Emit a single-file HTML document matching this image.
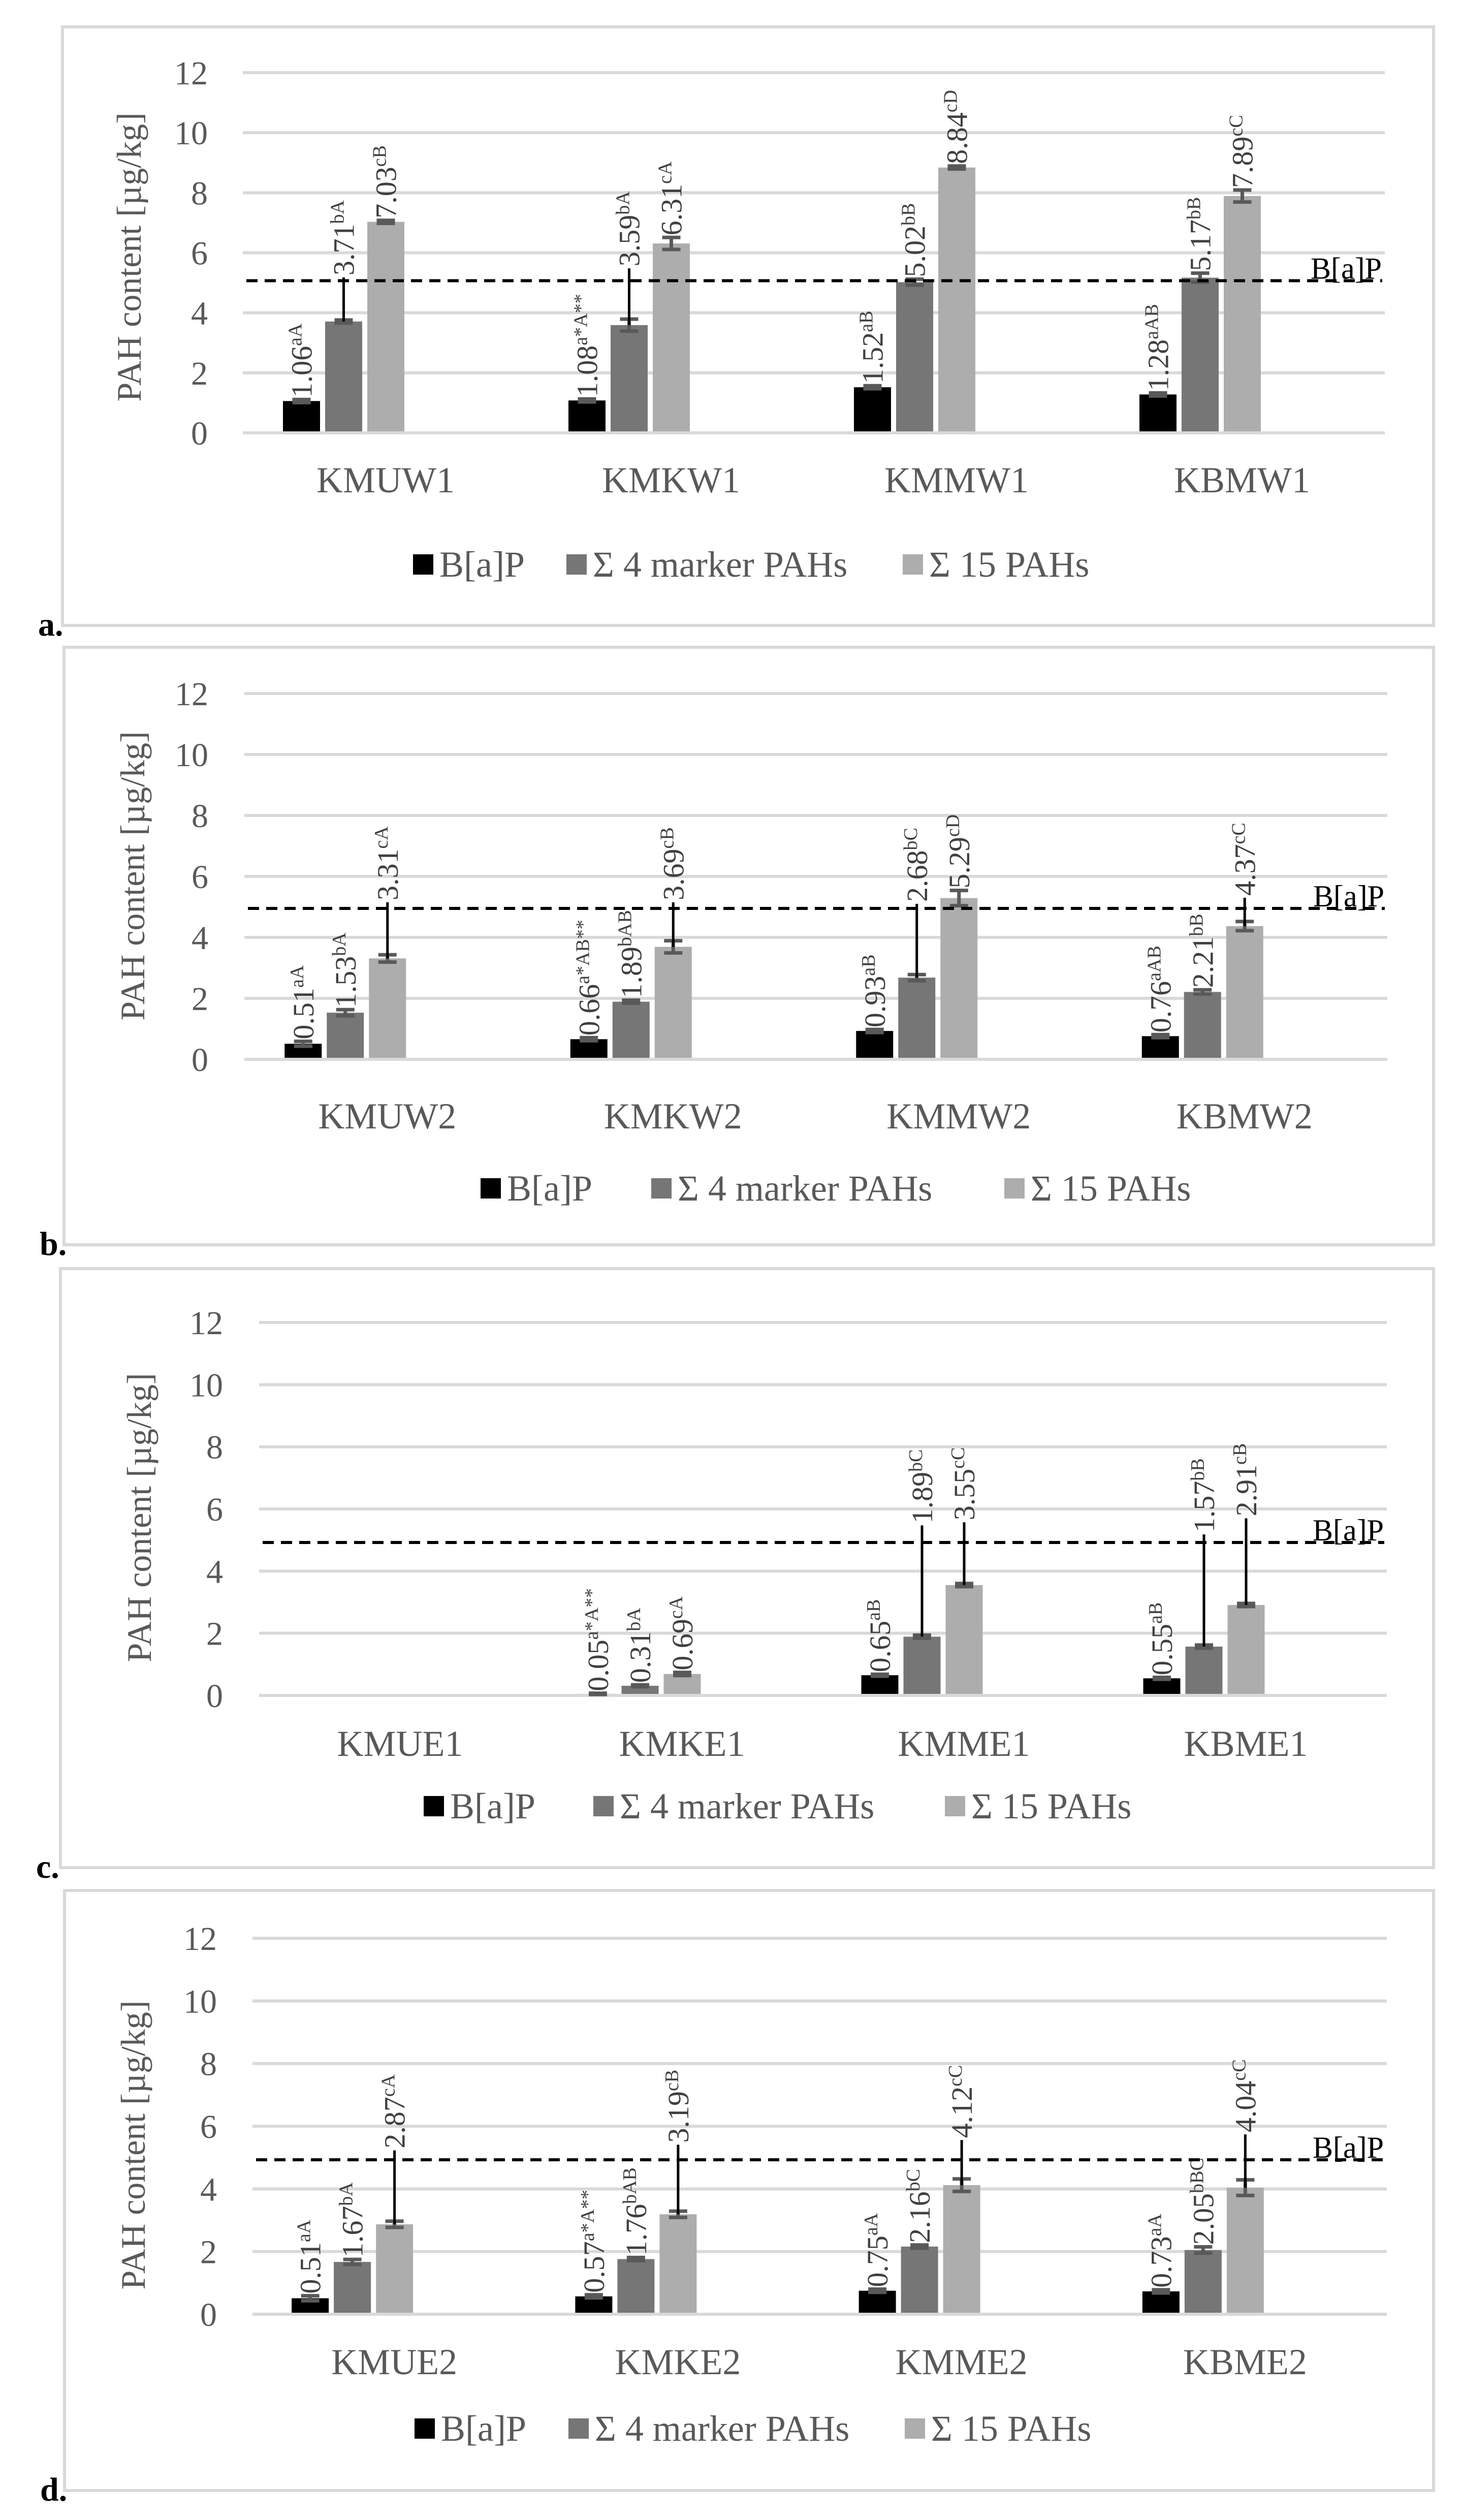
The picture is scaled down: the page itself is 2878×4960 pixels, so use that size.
<!DOCTYPE html>
<html><head><meta charset="utf-8">
<style>
html,body{margin:0;padding:0;background:#fff;}
svg{display:block;}
text{font-family:"Liberation Serif",serif;}
</style></head>
<body>
<svg id="fig" width="2878" height="4960" viewBox="0 0 2878 4960" xmlns="http://www.w3.org/2000/svg"></svg>
<script>
// ---- data ----
const panelLetters = ["a.", "b.", "c.", "d."];
const categoriesA = ["KMUW1", "KMKW1", "KMMW1", "KBMW1"];
const categoriesB = ["KMUW2", "KMKW2", "KMMW2", "KBMW2"];
const categoriesC = ["KMUE1", "KMKE1", "KMME1", "KBME1"];
const categoriesD = ["KMUE2", "KMKE2", "KMME2", "KBME2"];
const seriesNames = ["B[a]P", "\u03A3 4 marker PAHs", "\u03A3 15 PAHs"];
const yTicks = [0, 2, 4, 6, 8, 10, 12];

const bapA = [1.06, 1.08, 1.52, 1.28];
const m4A = [3.71, 3.59, 5.02, 5.17];
const p15A = [7.03, 6.31, 8.84, 7.89];
const bapB = [0.51, 0.66, 0.93, 0.76];
const m4B = [1.53, 1.89, 2.68, 2.21];
const p15B = [3.31, 3.69, 5.29, 4.37];
const bapC = [0, 0.05, 0.65, 0.55];
const m4C = [0, 0.31, 1.89, 1.57];
const p15C = [0, 0.69, 3.55, 2.91];
const bapD = [0.51, 0.57, 0.75, 0.73];
const m4D = [1.67, 1.76, 2.16, 2.05];
const p15D = [2.87, 3.19, 4.12, 4.04];

const errBapA = [0.05, 0.05, 0.05, 0.05];
const errM4A = [0.05, 0.2, 0.1, 0.15];
const errP15A = [0.05, 0.2, 0.05, 0.2];
const errBapB = [0.08, 0.05, 0.05, 0.05];
const errM4B = [0.1, 0.05, 0.1, 0.07];
const errP15B = [0.12, 0.2, 0.25, 0.15];
const errBapC = [0, 0.02, 0.03, 0.03];
const errM4C = [0, 0.03, 0.05, 0.05];
const errP15C = [0, 0.05, 0.05, 0.05];
const errBapD = [0.08, 0.05, 0.05, 0.05];
const errM4D = [0.08, 0.05, 0.05, 0.1];
const errP15D = [0.1, 0.1, 0.2, 0.25];

const spikeM4A = [5.18, 5.48, 0, 0];
const spikeP15A = [0, 0, 0, 0];
const spikeM4B = [0, 0, 5.1, 0];
const spikeP15B = [5.15, 5.15, 0, 5.3];
const spikeM4C = [0, 0, 5.47, 5.18];
const spikeP15C = [0, 0, 5.57, 5.7];
const spikeM4D = [0, 0, 0, 0];
const spikeP15D = [5.23, 5.41, 5.56, 5.74];

const supBapA = ["aA", "a*A**", "aB", "aAB"];
const supM4A = ["bA", "bA", "bB", "bB"];
const supP15A = ["cB", "cA", "cD", "cC"];
const supBapB = ["aA", "a*AB**", "aB", "aAB"];
const supM4B = ["bA", "bAB", "bC", "bB"];
const supP15B = ["cA", "cB", "cD", "cC"];
const supBapC = ["", "a*A**", "aB", "aB"];
const supM4C = ["", "bA", "bC", "bB"];
const supP15C = ["", "cA", "cC", "cB"];
const supBapD = ["aA", "a*A**", "aA", "aA"];
const supM4D = ["bA", "bAB", "bC", "bBC"];
const supP15D = ["cA", "cB", "cC", "cC"];

const limitA = 5.07, limitB = 4.95, limitC = 4.92, limitD = 4.93;

// ---- layout (not data) ----
const layouts = [
  {top:53, bottom:1231, left:123, plotL:478, plotR:2726, y12:143, y0:852, tickR:409, titleX:257, titleY:506, catY:969, legY:1111, leg:[813,1115,1777]},
  {top:1274, bottom:2450, left:126, plotL:481, plotR:2731, y12:1365, y0:2085, tickR:410, titleX:264, titleY:1724, catY:2221, legY:2339, leg:[946,1282,1977]},
  {top:2497, bottom:3676, left:119, plotL:510, plotR:2730, y12:2603, y0:3337, tickR:439, titleX:277, titleY:2987, catY:3456, legY:3555, leg:[834,1168,1860]},
  {top:3721, bottom:4902, left:127, plotL:497, plotR:2730, y12:3815, y0:4555, tickR:427, titleX:265, titleY:4222, catY:4673, legY:4780, leg:[816,1119,1781]}
];
const panels = [
  {cats:categoriesA, vals:[bapA,m4A,p15A], errs:[errBapA,errM4A,errP15A], spikes:[null,spikeM4A,spikeP15A], sups:[supBapA,supM4A,supP15A], limit:limitA},
  {cats:categoriesB, vals:[bapB,m4B,p15B], errs:[errBapB,errM4B,errP15B], spikes:[null,spikeM4B,spikeP15B], sups:[supBapB,supM4B,supP15B], limit:limitB},
  {cats:categoriesC, vals:[bapC,m4C,p15C], errs:[errBapC,errM4C,errP15C], spikes:[null,spikeM4C,spikeP15C], sups:[supBapC,supM4C,supP15C], limit:limitC},
  {cats:categoriesD, vals:[bapD,m4D,p15D], errs:[errBapD,errM4D,errP15D], spikes:[null,spikeM4D,spikeP15D], sups:[supBapD,supM4D,supP15D], limit:limitD}
];
const colors = ["#000000", "#767676", "#adadad"];
const NS = "http://www.w3.org/2000/svg";
const svg = document.getElementById("fig");

function mk(tag, attrs, parent) {
  const e = document.createElementNS(NS, tag);
  for (const k in attrs) e.setAttribute(k, attrs[k]);
  (parent || svg).appendChild(e);
  return e;
}

panels.forEach((p, pi) => {
  const L = layouts[pi];
  const g = mk("g", {});
  
  
  const yScale = v => L.y0 - (L.y0 - L.y12) * v / 12;
  const bandW = (L.plotR - L.plotL) / p.cats.length;
  const catCenter = i => L.plotL + bandW * (i + 0.5);
  const barX = (i, s) => catCenter(i) - 202 + s * 83;

  const frame = mk("rect", {x:L.left, y:L.top, width:2822 - L.left, height:L.bottom - L.top, fill:"none", stroke:"#d9d9d9", "stroke-width":6}, g);
  
  

  const pl = mk("text", {x:L.left - 48, y:L.bottom + 20, "font-size":66, "font-weight":"bold", fill:"#000"}, g);
  pl.textContent = panelLetters[pi];
  
  

  yTicks.forEach(t => {
    const gl = mk("line", {x1:L.plotL, x2:L.plotR, y1:yScale(t), y2:yScale(t), stroke:"#d9d9d9", "stroke-width":6}, g);
    
    
    const tl = mk("text", {x:L.tickR, y:yScale(t) + 23, "text-anchor":"end", "font-size":66, fill:"#595959"}, g);
    tl.textContent = t;
    
    
  });

  const yt = mk("text", {transform:`translate(${L.titleX + 20},${L.titleY}) rotate(-90)`, "text-anchor":"middle", "font-size":68, fill:"#595959"}, g);
  yt.textContent = "PAH content [\u00B5g/kg]";
  
  

  p.cats.forEach((c, i) => {
    const cl = mk("text", {x:catCenter(i), y:L.catY, "text-anchor":"middle", "font-size":72, fill:"#595959"}, g);
    cl.textContent = c;
    
    
  });

  p.vals.forEach((arr, s) => {
    arr.forEach((v, i) => {
      if (!v) return;
      const x = barX(i, s), w = 73, cx = x + w / 2;
      const r = mk("rect", {x:x, y:yScale(v), width:w, height:yScale(0) - yScale(v) - 3, fill:colors[s]}, g);
      
      
      const e = p.errs[s][i];
      const yh = yScale(v + e), yl = yScale(Math.max(0, v - e));
      const eg = mk("g", {stroke:"#595959", "stroke-width":7}, g);
      
      
      mk("line", {x1:cx, x2:cx, y1:yh, y2:yl}, eg);
      mk("line", {x1:cx - 18, x2:cx + 18, y1:yh, y2:yh}, eg);
      mk("line", {x1:cx - 18, x2:cx + 18, y1:yl, y2:yl}, eg);
      let topY = yh;
      const sp = p.spikes[s] ? p.spikes[s][i] : 0;
      if (sp) {
        const sl = mk("line", {x1:cx, x2:cx, y1:yScale(v), y2:yScale(sp), stroke:"#000", "stroke-width":5}, g);
        
        
        topY = Math.min(topY, yScale(sp));
      }
      const lt = mk("text", {transform:`translate(${cx + 20},${topY - 4}) rotate(-90)`, "font-size":58, fill:"#404040"}, g);
      
      
      const t1 = mk("tspan", {}, lt);
      t1.textContent = v.toFixed(2);
      const t2 = mk("tspan", {"font-size":38, dy:-20}, lt);
      t2.textContent = p.sups[s][i];
    });
  });

  const ly = yScale(p.limit);
  const dl = mk("line", {x1:L.plotL + 7, x2:L.plotR - 5, y1:ly, y2:ly, stroke:"#000", "stroke-width":6, "stroke-dasharray":"22 14"}, g);
  
  
  const dt = mk("text", {x:L.plotR - 6, y:ly - 4, "text-anchor":"end", "font-size":60, fill:"#000"}, g);
  dt.textContent = "B[a]P";
  
  

  seriesNames.forEach((n, s) => {
    const lg = mk("g", {}, g);
    
    
    mk("rect", {x:L.leg[s], y:L.legY - 20, width:40, height:40, fill:colors[s]}, lg);
    const tx = mk("text", {x:L.leg[s] + 52, y:L.legY + 24, "font-size":72, fill:"#595959"}, lg);
    tx.textContent = n;
  });
});
</script>
</body></html>
